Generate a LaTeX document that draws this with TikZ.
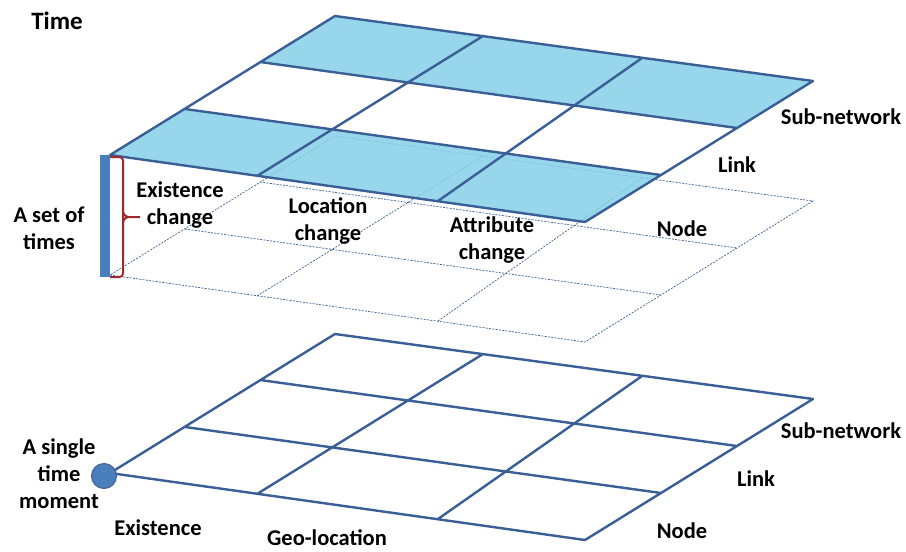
\documentclass[tikz,border=0pt]{standalone}
\usepackage{fontspec}
\setmainfont{Carlito}
\definecolor{gridline}{RGB}{58,95,150}
\definecolor{cellblue}{RGB}{134,209,232}
\definecolor{barblue}{RGB}{74,126,187}
\definecolor{bracered}{RGB}{160,40,45}
\newcommand\mkgrid[2]{%
  \coordinate (#1A) at (110,{155+#2});
  \coordinate (#1B) at (335,{16+#2});
  \coordinate (#1C) at (813,{81+#2});
  \coordinate (#1D) at (585,{222+#2});
  \coordinate (#1L1) at (185,{109+#2});
  \coordinate (#1L2) at (260,{62+#2});
  \coordinate (#1R1) at (661,{175+#2});
  \coordinate (#1R2) at (737,{128+#2});
  \coordinate (#1F1) at (257,{176+#2});
  \coordinate (#1F2) at (438,{201+#2});
  \coordinate (#1K1) at (483,{36+#2});
  \coordinate (#1K2) at (642,{58+#2});
}
\newcommand\gridlines[2]{%
  \draw[#2] (#1A)--(#1D)--(#1C)--(#1B)--cycle
    (#1L1)--(#1R1) (#1L2)--(#1R2) (#1F1)--(#1K1) (#1F2)--(#1K2);
}
\begin{document}
\begin{tikzpicture}[x=1pt,y=-1pt,
  solidline/.style={draw=gridline,line width=2.4pt,line join=round,line cap=round},
  dotline/.style={draw=gridline,line width=0.7pt,dash pattern=on 2pt off 1.3pt},
  lbl/.style={font=\fontsize{22.5}{27}\selectfont\bfseries,align=center,inner sep=0pt}]
\useasboundingbox (0,0) rectangle (906,552);
\fill[white] (0,0) rectangle (906,552);
\mkgrid{t}{0}
\mkgrid{d}{120}
\mkgrid{b}{318}
% dotted lower plane of the set of times
\gridlines{d}{dotline}
% top plane
\fill[cellblue,fill opacity=0.85] (tA)--(tD)--(tR1)--(tL1)--cycle
  (tL2)--(tR2)--(tC)--(tB)--cycle;
\gridlines{t}{solidline}
% bar and brace
\node[fill=barblue,minimum width=10pt,minimum height=122pt,inner sep=0pt] (bar) at (105,216) {};
\draw[bracered,line width=2pt,rounded corners=3.5pt] (110,157) -- (123,157) -- (123,277) -- (110,277);
\draw[bracered,line width=2pt] (123,211) to[out=-90,in=180] (129,217) -- (140,217);
\draw[bracered,line width=2pt] (123,223) to[out=90,in=180] (129,217);
% bottom plane
\gridlines{b}{solidline}
\node[circle,fill=barblue,draw=gridline,line width=1pt,minimum size=25pt,inner sep=0pt] (dot) at (104,476) {};
% labels
\node[lbl,font=\fontsize{25}{27}\selectfont\bfseries] (time) at (57,21) {Time};
\node[lbl] (setof) at (49,228) {A set of\\times};
\node[lbl] (exch) at (180,205) {Existence\\change};
\node[lbl] (loch) at (328,221) {Location\\change};
\node[lbl] (attch) at (492,240) {Attribute\\change};
\node[lbl] (tnode) at (682,229) {Node};
\node[lbl] (tlink) at (737,165) {Link};
\node[lbl] (tsub) at (841,117) {Sub-network};
\node[lbl] (bsub) at (841,431) {Sub-network};
\node[lbl] (blink) at (756,479) {Link};
\node[lbl] (bnode) at (682,531) {Node};
\node[lbl] (single) at (59,474) {A single\\time\\moment};
\node[lbl] (bexist) at (158,528) {Existence};
\node[lbl] (geo) at (327,538) {Geo-location};
\end{tikzpicture}
\end{document}
